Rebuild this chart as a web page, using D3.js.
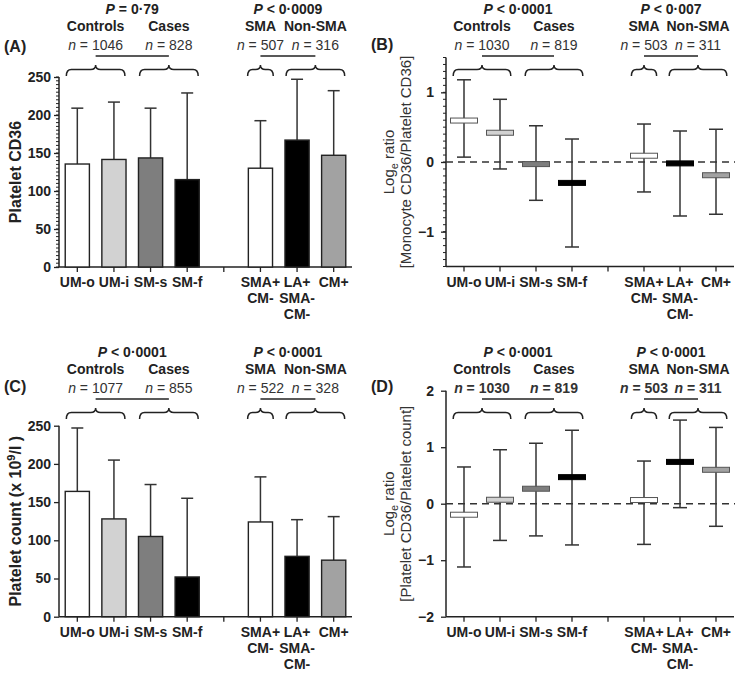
<!DOCTYPE html>
<html><head><meta charset="utf-8">
<script src="https://cdn.jsdelivr.net/npm/d3@7"></script>
<style>body{margin:0;background:#fff}svg{display:block;font-family:"Liberation Sans",Arial,sans-serif}</style>
</head><body>
<svg id="c" width="735" height="676"></svg>
<script>
// ---------- data ----------
const slots = ["UM-o","UM-i","SM-s","SM-f","gap","SMA+ CM-","LA+ SMA- CM-","CM+"];
const categories = ["UM-o","UM-i","SM-s","SM-f","SMA+ CM-","LA+ SMA- CM-","CM+"];
const groups = [["UM-o","UM-i"],["SM-s","SM-f"],["SMA+ CM-"],["LA+ SMA- CM-","CM+"]];
const groupNames = ["Controls","Cases","SMA","Non-SMA"];

const meanA = [135.5,141.5,143.5,115,130,167,147];
const hiA   = [209,217,209,229,192.5,247,232];
const meanB = [0.595,0.42,-0.03,-0.30,0.09,-0.02,-0.19];
const loB   = [0.07,-0.10,-0.55,-1.22,-0.43,-0.775,-0.75];
const hiB   = [1.18,0.90,0.52,0.33,0.545,0.445,0.47];
const meanC = [164,128,105,52,124,79,74];
const hiC   = [247,205,173,155,183,127,131];
const meanD = [-0.195,0.07,0.265,0.47,0.065,0.74,0.60];
const loD   = [-1.12,-0.65,-0.57,-0.73,-0.72,-0.07,-0.40];
const hiD   = [0.65,0.955,1.07,1.30,0.755,1.48,1.35];

const pA = ["= 0·79","< 0·0009"], nA = [1046,828,507,316];
const pB = ["< 0·0001","< 0·007"], nB = [1030,819,503,311];
const pC = ["< 0·0001","< 0·0001"], nC = [1077,855,522,328];
const pD = ["< 0·0001","< 0·0001"], nD = [1030,819,503,311];

const ticksA = [0,50,100,150,200,250];
const ticksB = [-1,0,1];
const ticksD = [-2,-1,0,1,2];

// ---------- styles ----------
const fills = ["#ffffff","#d2d2d2","#7e7e7e","#000000","#ffffff","#000000","#a2a2a2"];
const ink = "#222";

const svg = d3.select("#c");

function brace(g, x1, x2, yTip, yMid, yEnd){
  const cx = (x1+x2)/2, r = 5;
  const p = d3.path();
  p.moveTo(x1,yEnd); p.quadraticCurveTo(x1,yMid,x1+r,yMid);
  p.lineTo(cx-r,yMid); p.quadraticCurveTo(cx,yMid,cx,yTip);
  p.quadraticCurveTo(cx,yMid,cx+r,yMid); p.lineTo(x2-r,yMid);
  p.quadraticCurveTo(x2,yMid,x2,yEnd);
  g.append("path").attr("d",p.toString()).attr("fill","none").attr("stroke",ink).attr("stroke-width",1.5);
}

function panel(cfg){
  const g = svg.append("g");
  const x = d3.scaleBand().domain(slots).range(cfg.xr).paddingInner(0).paddingOuter(0);
  const step = x.step();
  const xc = d => x(d) + step/2;
  const y = d3.scaleLinear().domain(cfg.yd).range(cfg.yr);

  // header
  const pY = cfg.pY;
  const bx = groups.map(gr => {
    const l = xc(gr[0]) - (gr.length===1 ? 0.35 : 0.3)*step;
    const r = xc(gr[gr.length-1]) + (gr.length===1 ? 0.35 : 0.3)*step;
    return [l,r];
  });
  bx.forEach(b => brace(g, b[0], b[1], pY+51, pY+55.5, pY+62));
  [[0,1],[2,3]].forEach((pair,i) => {
    const c1 = (bx[pair[0]][0]+bx[pair[0]][1])/2, c2 = (bx[pair[1]][0]+bx[pair[1]][1])/2;
    g.append("line").attr("x1",c1).attr("x2",c2).attr("y1",pY+42).attr("y2",pY+42)
      .attr("stroke",ink).attr("stroke-width",1.5);
    const t = g.append("text").attr("x",(c1+c2)/2).attr("y",pY).attr("text-anchor","middle")
      .attr("font-size",14).attr("font-weight","bold").attr("fill",ink);
    t.append("tspan").attr("font-style","italic").text("P");
    t.append("tspan").text(" " + cfg.p[i]);
  });
  bx.forEach((b,i) => {
    const c = (b[0]+b[1])/2;
    g.append("text").attr("x",c).attr("y",pY+17).attr("text-anchor","middle")
      .attr("font-size",14).attr("font-weight","bold").attr("fill",ink).text(groupNames[i]);
    const t = g.append("text").attr("x",c).attr("y",pY+36).attr("text-anchor","middle")
      .attr("font-size",14).attr("font-weight",cfg.nBold?"bold":"normal").attr("fill","#333");
    t.append("tspan").attr("font-style","italic").text("n");
    t.append("tspan").text(" = " + cfg.n[i]);
  });

  // panel letter
  g.append("text").attr("x",cfg.letterX).attr("y",cfg.letterY).attr("font-size",16)
    .attr("font-weight","bold").attr("fill",ink).text(cfg.letter);

  // y axis
  const ya = d3.axisLeft(y).tickValues(cfg.ticks).tickSize(5).tickPadding(cfg.tickPad)
    .tickFormat(d => d<0 ? "\u2212"+Math.abs(d) : d);
  const yg = g.append("g").attr("transform",`translate(${cfg.xr[0]},0)`).call(ya);
  yg.select(".domain").attr("stroke",ink).attr("stroke-width",1.5).attr("d",`M0,${cfg.yr[0]}V${cfg.yr[1]}`);
  yg.selectAll(".tick line").attr("stroke",ink).attr("stroke-width",1.3);
  yg.selectAll("text").attr("font-size",14).attr("font-weight","bold").attr("fill",ink)
    .attr("font-family","Liberation Sans, Arial, sans-serif");
  if (cfg.minor){
    const mt = d3.range(cfg.yd[0], cfg.yd[1]+cfg.minor/2, cfg.minor);
    yg.selectAll(".minor").data(mt).enter().append("line").attr("class","minor")
      .attr("x1",-3).attr("x2",0).attr("y1",d=>y(d)).attr("y2",d=>y(d))
      .attr("stroke",ink).attr("stroke-width",1);
  }

  // x axis
  const axY = cfg.yr[0];
  g.append("line").attr("x1",cfg.xr[0]).attr("x2",cfg.xr[1]).attr("y1",axY).attr("y2",axY)
    .attr("stroke",ink).attr("stroke-width",1.5);
  slots.forEach(s => {
    g.append("line").attr("x1",xc(s)).attr("x2",xc(s)).attr("y1",axY).attr("y2",axY+5)
      .attr("stroke",ink).attr("stroke-width",1.3);
  });
  categories.forEach(cat => {
    const t = g.append("text").attr("text-anchor","middle").attr("font-size",14)
      .attr("font-weight","bold").attr("fill",ink);
    cat.split(" ").forEach((w,i) => t.append("tspan").attr("x",xc(cat)).attr("y",axY+20+i*16).text(w));
  });

  // y label
  const lx = cfg.labelX, ly = (cfg.yr[0]+cfg.yr[1])/2;
  cfg.label(g, lx, ly);

  if (cfg.type === "bar"){
    categories.forEach((cat,i) => {
      const cx = xc(cat);
      g.append("line").attr("x1",cx).attr("x2",cx).attr("y1",y(cfg.mean[i])).attr("y2",y(cfg.hi[i]))
        .attr("stroke","#333").attr("stroke-width",1.5);
      g.append("line").attr("x1",cx-6).attr("x2",cx+6).attr("y1",y(cfg.hi[i])).attr("y2",y(cfg.hi[i]))
        .attr("stroke","#333").attr("stroke-width",1.5);
      const bw = step*0.66;
      g.append("rect").attr("x",cx-bw/2).attr("y",y(cfg.mean[i])).attr("width",bw)
        .attr("height",y(0)-y(cfg.mean[i])).attr("fill",fills[i]).attr("stroke",ink).attr("stroke-width",1.4);
    });
  } else {
    g.append("line").attr("x1",cfg.xr[0]).attr("x2",735).attr("y1",y(0)).attr("y2",y(0))
      .attr("stroke","#333").attr("stroke-width",1.5).attr("stroke-dasharray","7,5");
    categories.forEach((cat,i) => {
      const cx = xc(cat);
      g.append("line").attr("x1",cx).attr("x2",cx).attr("y1",y(cfg.lo[i])).attr("y2",y(cfg.hi[i]))
        .attr("stroke","#333").attr("stroke-width",1.5);
      [cfg.lo[i],cfg.hi[i]].forEach(v => g.append("line").attr("x1",cx-7).attr("x2",cx+7)
        .attr("y1",y(v)).attr("y2",y(v)).attr("stroke","#333").attr("stroke-width",1.5));
      g.append("rect").attr("x",cx-13.5).attr("y",y(cfg.mean[i])-2.5).attr("width",27).attr("height",5)
        .attr("fill",fills[i]).attr("stroke",fills[i]==="#000000"?"#000":"#555").attr("stroke-width",1);
    });
  }
}

function boldLabel(txt){
  return (g,x,y) => g.append("text").attr("transform",`translate(${x},${y}) rotate(-90)`)
    .attr("text-anchor","middle").attr("font-size",16).attr("font-weight","bold").attr("fill",ink).text(txt);
}
function logLabel(second){
  return (g,x,y) => {
    const t1 = g.append("text").attr("transform",`translate(${x},${y}) rotate(-90)`)
      .attr("text-anchor","middle").attr("font-size",15).attr("fill","#333");
    t1.append("tspan").text("Log");
    t1.append("tspan").attr("font-size",11).attr("dy",4).text("e");
    t1.append("tspan").attr("dy",-4).text(" ratio");
    g.append("text").attr("transform",`translate(${x+17},${y}) rotate(-90)`)
      .attr("text-anchor","middle").attr("font-size",15).attr("fill","#333").text(second);
  };
}
function countLabel(g,x,y){
  const t = g.append("text").attr("transform",`translate(${x},${y}) rotate(-90)`)
    .attr("text-anchor","middle").attr("font-size",16).attr("font-weight","bold").attr("fill",ink);
  t.append("tspan").text("Platelet count (x 10");
  t.append("tspan").attr("font-size",11).attr("dy",-6).text("9");
  t.append("tspan").attr("dy",6).text("/l )");
}

panel({type:"bar", xr:[59,352], yd:[0,250], yr:[267,77], mean:meanA, hi:hiA, ticks:ticksA, minor:5,
  tickPad:3, p:pA, n:nA, pY:14, letter:"(A)", letterX:4, letterY:52, labelX:21, label:boldLabel("Platelet  CD36")});
panel({type:"range", xr:[446,734], yd:[-1.5,1.5], yr:[266.5,57.5], mean:meanB, lo:loB, hi:hiB, ticks:ticksB, minor:0.1,
  tickPad:7, p:pB, n:nB, pY:14, letter:"(B)", letterX:371, letterY:50, labelX:394,
  label:logLabel("[Monocyte CD36/Platelet CD36]")});
panel({type:"bar", xr:[59,352], yd:[0,250], yr:[616.7,425.7], mean:meanC, hi:hiC, ticks:ticksA,
  tickPad:3, p:pC, n:nC, pY:357, letter:"(C)", letterX:4, letterY:392, labelX:21, label:countLabel});
panel({type:"range", xr:[446,734], yd:[-2,2], yr:[616.7,390.7], mean:meanD, lo:loD, hi:hiD, ticks:ticksD,
  tickPad:7, p:pD, n:nD, nBold:true, pY:357, letter:"(D)", letterX:371, letterY:392, labelX:394,
  label:logLabel("[Platelet CD36/Platelet count]")});
</script>
</body></html>
